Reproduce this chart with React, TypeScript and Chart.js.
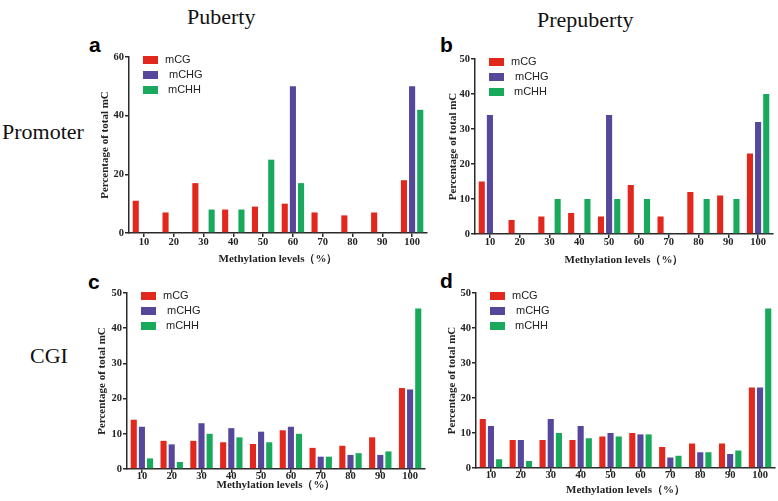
import React, { useEffect, useRef } from 'react';
import { Chart, registerables } from 'chart.js';

Chart.register(...registerables);

// ---------- data ----------
const levels = ['10', '20', '30', '40', '50', '60', '70', '80', '90', '100'];
const seriesNames = ['mCG', 'mCHG', 'mCHH'];
const seriesColors = ['#e2281d', '#56479b', '#19a95c'];
const legendIndent = [0, 4, 3];

// a: Puberty / Promoter
const aCG = [11, 7, 17, 8, 9, 10, 7, 6, 7, 18];
const aCHG = [0, 0, 0, 0, 0, 50, 0, 0, 0, 50];
const aCHH = [0, 0, 8, 8, 25, 17, 0, 0, 0, 42];

// b: Prepuberty / Promoter
const bCG = [15, 4, 5, 6, 5, 14, 5, 12, 11, 23];
const bCHG = [34, 0, 0, 0, 34, 0, 0, 0, 0, 32];
const bCHH = [0, 0, 10, 10, 10, 10, 0, 10, 10, 40];

// c: Puberty / CGI
const cCG = [14, 8, 8, 7.6, 7.1, 11, 6, 6.6, 9, 23];
const cCHG = [12, 7, 13, 11.6, 10.6, 12, 3.5, 4, 4, 22.6];
const cCHH = [3, 2, 10, 9, 7.6, 10, 3.5, 4.5, 5, 45.6];

// d: Prepuberty / CGI
const dCG = [14, 8, 8, 8, 9, 10, 6, 7, 7, 23];
const dCHG = [12, 8, 14, 12, 10, 9.6, 3, 4.5, 4, 23];
const dCHH = [2.5, 2, 10, 8.5, 9, 9.6, 3.5, 4.5, 5, 45.6];

const yTicksA = { max: 60, step: 20 };
const yTicksOther = { max: 50, step: 10 };

const yTitle = 'Percentage of total mC';
const xTitle = 'Methylation levels（%）';

// ---------- geometry ----------
type Geo = {
  left: number; top: number; w: number; h: number;
  l: number; r: number; t: number; b: number;
  yTitleX: number; xTitleY: number; xPad: number;
};

const TITLE_LH = 11 * 1.2;

const geoA: Geo = { left: 80, top: 36, w: 360, h: 234, l: 129, r: 427, t: 57, b: 233, yTitleX: 105, xTitleY: 259, xPad: -1 };
const geoB: Geo = { left: 440, top: 36, w: 338, h: 234, l: 475, r: 773, t: 59, b: 234, yTitleX: 453, xTitleY: 260, xPad: -2 };
const geoC: Geo = { left: 80, top: 272, w: 360, h: 229, l: 127, r: 425, t: 293, b: 469, yTitleX: 102, xTitleY: 485, xPad: -3.5 };
const geoD: Geo = { left: 440, top: 272, w: 338, h: 229, l: 476, r: 775, t: 293, b: 468, yTitleX: 452, xTitleY: 490, xPad: -3 };

const serif = '"Liberation Serif", "Times New Roman", serif';
const sans = '"Liberation Sans", Arial, sans-serif';

const innerLegend = {
  id: 'innerLegend',
  afterDraw(chart: any) {
    const { ctx, chartArea } = chart;
    ctx.save();
    chart.data.datasets.forEach((ds: any, i: number) => {
      const y = chartArea.top + 3 + i * 15;
      ctx.fillStyle = ds.backgroundColor;
      ctx.fillRect(chartArea.left + 14, y - 4, 15, 8);
      ctx.fillStyle = '#222';
      ctx.font = '11px ' + sans;
      ctx.textBaseline = 'middle';
      ctx.textAlign = 'left';
      ctx.fillText(ds.label, chartArea.left + 36 + legendIndent[i], y);
    });
    ctx.restore();
  },
};

function Panel({ geo, cg, chg, chh, yt }: { geo: Geo; cg: number[]; chg: number[]; chh: number[]; yt: { max: number; step: number } }) {
  const ref = useRef<HTMLCanvasElement>(null);
  useEffect(() => {
    if (!ref.current) return;
    const scaleLeft = geo.yTitleX - TITLE_LH / 2;
    const scaleBottom = geo.xTitleY + TITLE_LH / 2;
    const padLeft = scaleLeft - geo.left;
    const yWidth = geo.l - scaleLeft;
    const padTop = geo.t - geo.top;
    const padRight = geo.left + geo.w - geo.r;
    const padBottom = geo.top + geo.h - scaleBottom;
    const xHeight = scaleBottom - geo.b;
    const series = [cg, chg, chh];
    const axisColor = '#2a2a2a';
    const tickFont = { family: serif, size: 10.5, weight: 'bold' };
    const chart = new Chart(ref.current, {
      type: 'bar',
      data: {
        labels: levels,
        datasets: series.map((d, i) => ({
          label: seriesNames[i],
          data: d,
          backgroundColor: seriesColors[i],
          borderWidth: 0,
          categoryPercentage: 0.82,
          barPercentage: 0.75,
        })),
      },
      options: {
        responsive: false,
        animation: false,
        devicePixelRatio: 1,
        layout: { padding: { left: padLeft, top: padTop, right: padRight, bottom: padBottom } },
        plugins: { legend: { display: false }, tooltip: { enabled: false } },
        scales: {
          x: {
            type: 'category',
            offset: true,
            afterFit: (s: any) => { s.height = xHeight; },
            grid: { display: true, drawOnChartArea: false, drawTicks: true, tickLength: 4, offset: false, color: axisColor, lineWidth: 1.5 },
            border: { display: true, color: axisColor, width: 1.5 },
            ticks: { color: '#222', font: tickFont, padding: geo.xPad, maxRotation: 0, autoSkip: false },
            title: { display: true, text: xTitle, color: '#222', font: { family: serif, size: 11, weight: 'bold', lineHeight: 1.2 }, padding: 0 },
          },
          y: {
            min: 0,
            max: yt.max,
            afterFit: (s: any) => { s.width = yWidth; },
            grid: { display: true, drawOnChartArea: false, drawTicks: true, tickLength: 4, color: axisColor, lineWidth: 1.5 },
            border: { display: true, color: axisColor, width: 1.5 },
            ticks: { stepSize: yt.step, color: '#222', font: tickFont, padding: 1 },
            title: { display: true, text: yTitle, color: '#222', font: { family: serif, size: 11, weight: 'bold', lineHeight: 1.2 }, padding: 0 },
          },
        },
      } as any,
      plugins: [innerLegend],
    });
    return () => chart.destroy();
  }, []);
  return (
    <canvas
      ref={ref}
      width={geo.w}
      height={geo.h}
      style={{ position: 'absolute', left: geo.left, top: geo.top, width: geo.w, height: geo.h, display: 'block' }}
    />
  );
}

const serifLabel = (text: string, left: number, baseline: number) => (
  <div style={{ position: 'absolute', left, top: baseline - 18.4, fontFamily: serif, fontSize: 22, lineHeight: '22px', color: '#111', whiteSpace: 'nowrap' }}>{text}</div>
);

const letter = (text: string, left: number, baseline: number) => (
  <div style={{ position: 'absolute', left, top: baseline - 17.8, fontFamily: sans, fontWeight: 'bold', fontSize: 21, lineHeight: '21px', color: '#000' }}>{text}</div>
);

export default function App() {
  return (
    <div style={{ position: 'absolute', left: 0, top: 0, width: 778, height: 501, background: '#fff', overflow: 'hidden' }}>
      {serifLabel('Puberty', 187, 24)}
      {serifLabel('Prepuberty', 537, 27)}
      {serifLabel('Promoter', 2, 139)}
      {serifLabel('CGI', 30, 363)}
      {letter('a', 89, 52)}
      {letter('b', 440, 52)}
      {letter('c', 88, 289)}
      {letter('d', 440, 288)}
      <Panel geo={geoA} cg={aCG} chg={aCHG} chh={aCHH} yt={yTicksA} />
      <Panel geo={geoB} cg={bCG} chg={bCHG} chh={bCHH} yt={yTicksOther} />
      <Panel geo={geoC} cg={cCG} chg={cCHG} chh={cCHH} yt={yTicksOther} />
      <Panel geo={geoD} cg={dCG} chg={dCHG} chh={dCHH} yt={yTicksOther} />
    </div>
  );
}
